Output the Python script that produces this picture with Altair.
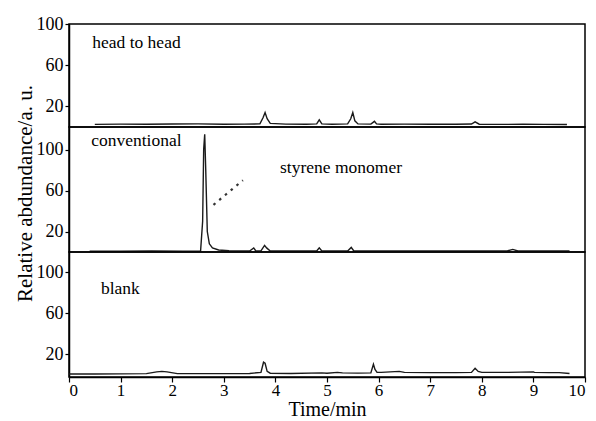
import altair as alt
import pandas as pd

# ---- data ----
hh_t = [0.50, 1.00, 1.50, 2.00, 2.50, 3.00, 3.40, 3.70, 3.76, 3.80, 3.84, 3.90, 4.20, 4.60, 4.80, 4.85, 4.90,
        5.10, 5.40, 5.46, 5.50, 5.54, 5.60, 5.85, 5.92, 5.96, 6.05, 6.50, 7.00, 7.50, 7.80, 7.87, 7.95, 8.30,
        8.80, 9.20, 9.65]
hh_v = [2.5, 2.8, 2.6, 2.9, 3.0, 2.7, 2.8, 3.0, 9.0, 14.0, 8.0, 3.5, 2.8, 2.7, 3.0, 7.0, 3.0,
        2.6, 3.0, 8.0, 14.0, 6.0, 3.0, 2.8, 5.5, 3.0, 2.7, 2.8, 2.6, 2.7, 2.9, 5.0, 2.7, 2.5,
        2.6, 2.5, 2.5]

cv_t = [0.40, 1.00, 1.60, 2.20, 2.55, 2.59, 2.61, 2.63, 2.65, 2.68, 2.72, 2.78, 2.90, 3.10, 3.50, 3.58, 3.62,
        3.72, 3.79, 3.83, 3.90, 4.30, 4.80, 4.85, 4.90, 5.40, 5.47, 5.52, 6.00, 6.50, 7.00, 7.50, 8.00, 8.50,
        8.60, 8.70, 9.20, 9.70]
cv_v = [0.8, 0.8, 1.0, 0.9, 1.0, 30.0, 100.0, 115.0, 80.0, 20.0, 8.0, 4.0, 2.0, 1.2, 1.0, 4.0, 1.0,
        1.2, 6.5, 4.0, 1.0, 1.0, 1.0, 4.0, 1.0, 1.0, 4.5, 1.0, 1.0, 1.0, 1.0, 1.0, 1.0, 1.2,
        2.5, 1.0, 1.0, 1.0]

bk_t = [0.00, 0.50, 1.00, 1.50, 1.70, 1.80, 1.90, 2.10, 2.50, 3.00, 3.50, 3.72, 3.77, 3.80, 3.84, 3.90, 4.30,
        4.90, 5.00, 5.20, 5.30, 5.60, 5.85, 5.90, 5.93, 5.97, 6.05, 6.40, 6.50, 7.00, 7.50, 7.80, 7.87, 7.93,
        8.00, 8.50, 9.00, 9.02, 9.30, 9.50, 9.70]
bk_v = [0.5, 0.5, 0.6, 0.8, 2.5, 3.0, 2.5, 0.8, 0.8, 0.8, 1.0, 2.0, 12.0, 11.0, 3.0, 1.2, 1.0,
        1.5, 1.2, 2.0, 1.5, 1.3, 1.5, 10.0, 5.0, 2.0, 2.0, 3.0, 2.0, 1.8, 1.8, 2.0, 6.0, 3.0,
        2.0, 2.0, 2.5, 2.0, 1.8, 1.8, 1.0]

# annotation arrow (dotted) in the "conventional" panel
arrow_t = [2.80, 3.37]
arrow_v = [46.0, 70.0]

panel_labels = ["head to head", "conventional", "blank"]
panel_label_t = [0.45, 0.43, 0.62]
panel_label_v = [81.5, 108.0, 83.4]
styrene_label = "styrene monomer"
styrene_t = 4.09
styrene_v = 81.5

x_ticks = list(range(0, 11))
y_ticks = [20, 60, 100]

FONT = "Times New Roman, Liberation Serif, serif"
W = 516
LINE_COLOR = "#1a1a1a"
LABEL_SIZE = 17.5


def make_panel(t, v, domain, height, label_i, show_x=False, y_title=None, extra=None):
    df = pd.DataFrame({"t": t, "v": v})
    if show_x:
        xax = alt.Axis(values=x_ticks, title="Time/min", tickSize=5, labelPadding=0,
                       labelFontSize=17, titlePadding=1, titleFontSize=20, format="d")
    else:
        xax = None
    if y_title:
        yax = alt.Axis(values=y_ticks, title=y_title, tickSize=4, labelPadding=2,
                       titlePadding=1, titleY=66)
    else:
        yax = alt.Axis(values=y_ticks, title=None, tickSize=4, labelPadding=2)
    xs = alt.Scale(domain=[0, 10], nice=False)
    ys = alt.Scale(domain=domain, nice=False, zero=False)
    line = alt.Chart(df).mark_line(color=LINE_COLOR, strokeWidth=1.4).encode(
        x=alt.X("t:Q", scale=xs, axis=xax),
        y=alt.Y("v:Q", scale=ys, axis=yax),
    )
    lab_df = pd.DataFrame({"t": [panel_label_t[label_i]], "v": [panel_label_v[label_i]],
                           "s": [panel_labels[label_i]]})
    txt = alt.Chart(lab_df).mark_text(font=FONT, fontSize=LABEL_SIZE, align="left", baseline="middle",
                                      color="black").encode(
        x=alt.X("t:Q", scale=xs, axis=xax),
        y=alt.Y("v:Q", scale=ys, axis=yax),
        text="s:N",
    )
    layers = [line, txt]
    if extra is not None:
        layers += extra(xs, ys, xax, yax)
    return alt.layer(*layers).properties(width=W, height=height)


def conv_extra(xs, ys, xax, yax):
    adf = pd.DataFrame({"t": arrow_t, "v": arrow_v})
    arrow = alt.Chart(adf).mark_line(color="#333333", strokeWidth=2.2, strokeDash=[2.5, 5]).encode(
        x=alt.X("t:Q", scale=xs, axis=xax),
        y=alt.Y("v:Q", scale=ys, axis=yax),
    )
    sdf = pd.DataFrame({"t": [styrene_t], "v": [styrene_v], "s": [styrene_label]})
    st = alt.Chart(sdf).mark_text(font=FONT, fontSize=LABEL_SIZE, align="left", baseline="middle",
                                  color="black").encode(
        x=alt.X("t:Q", scale=xs, axis=xax),
        y=alt.Y("v:Q", scale=ys, axis=yax),
        text="s:N",
    )
    return [arrow, st]


p1 = make_panel(hh_t, hh_v, [0, 100], 103, 0)
p2 = make_panel(cv_t, cv_v, [0, 122], 125, 1, y_title="Relative abdundance/a. u.", extra=conv_extra)
p3 = make_panel(bk_t, bk_v, [-2.5, 120], 125, 2, show_x=True)

chart = alt.vconcat(p1, p2, p3, spacing=0, bounds="flush").properties(
    padding={"left": 13, "top": 14, "right": 2, "bottom": 0}
).configure_view(
    stroke="black", strokeWidth=1.5
).configure_axis(
    labelFont=FONT, labelFontSize=18, labelColor="black",
    titleFont=FONT, titleFontSize=21, titleFontWeight="normal", titleColor="black",
    domainColor="black", domainWidth=1.5, tickColor="black", tickWidth=1.2, grid=False,
).configure_text(font=FONT).configure_concat(spacing=0)

chart.save("out.html", embed_options={"renderer": "svg", "actions": False})
